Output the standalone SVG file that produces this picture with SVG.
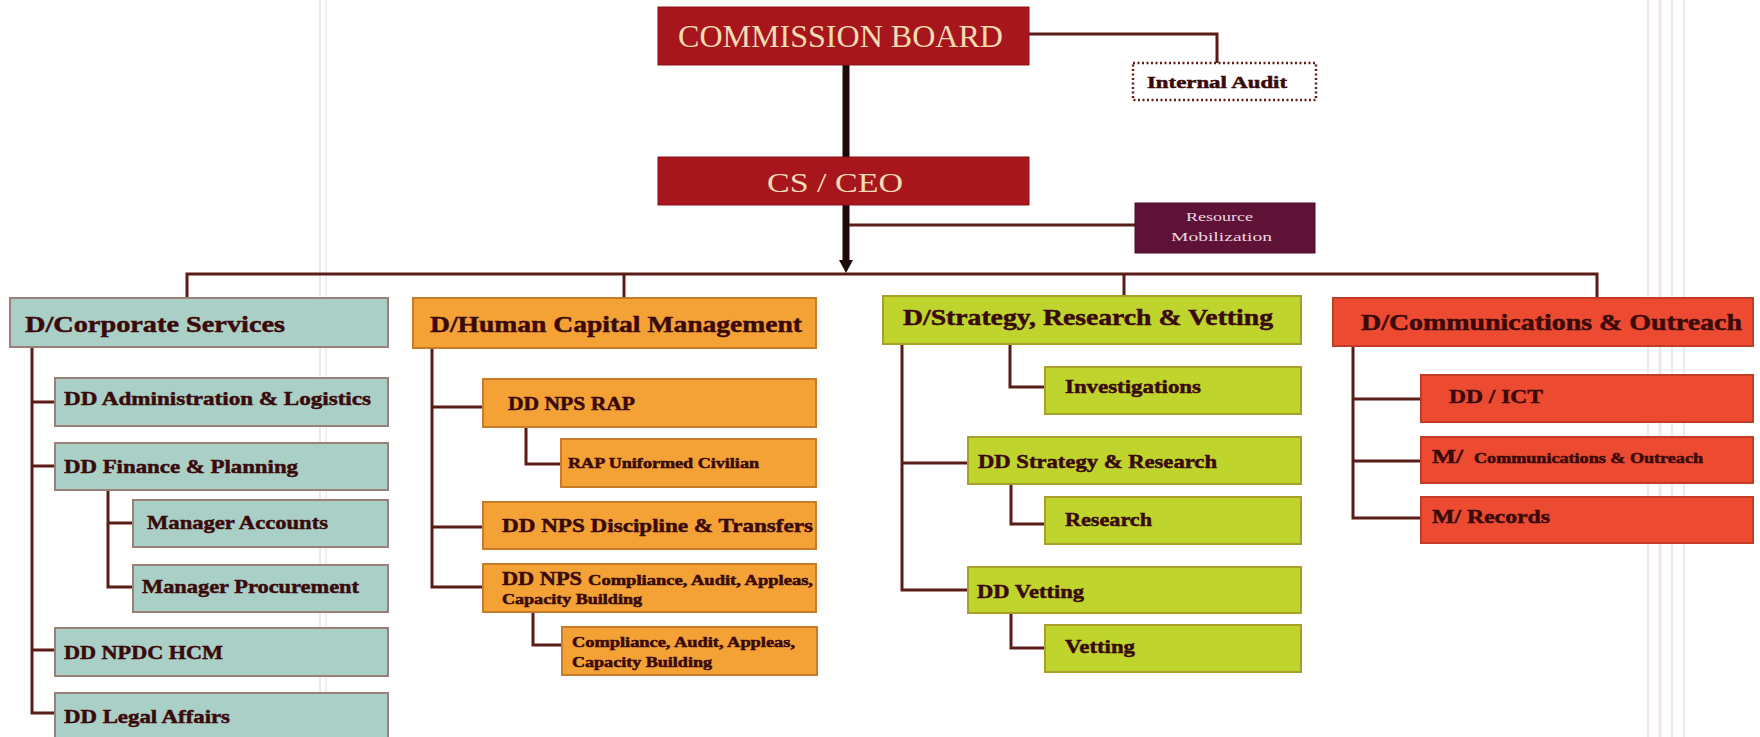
<svg xmlns="http://www.w3.org/2000/svg" width="1760" height="737" viewBox="0 0 1760 737">
  <style>
    .cn { stroke: #5a1c16; stroke-width: 3; fill: none; }
    .trunk { stroke: #1c0a08; stroke-width: 7; fill: none; }
    .box-top { fill: #a8161d; stroke: #8a1016; stroke-width: 1; }
    .box-rm { fill: #5e1236; stroke: #4a0c2a; stroke-width: 1; }
    .box-ia { fill: #ffffff; stroke: #6b1a1a; stroke-width: 2.5; stroke-dasharray: 2 2.5; }
    .teal { fill: #aacfc7; stroke: #9a8078; stroke-width: 2; }
    .orng { fill: #f4a236; stroke: #c87c2a; stroke-width: 2; }
    .lime { fill: #bfd42c; stroke: #a8a02a; stroke-width: 2; }
    .redo { fill: #ec4b32; stroke: #c23a28; stroke-width: 2; }
    .t { font-family: "Liberation Serif", "DejaVu Serif", serif; font-weight: bold; fill: #3a0a0a; stroke: #3a0a0a; stroke-width: 0.5; }
    .h { font-size: 24px; }
    .m { font-size: 19.5px; }
    .s { font-size: 14px; }
    .cap { font-family: "Liberation Serif", "DejaVu Serif", serif; fill: #f2dcb4; }
    .rmt { font-family: "Liberation Serif", "DejaVu Serif", serif; font-size: 13px; fill: #ecd6e4; }
    .streak { stroke: #d9c4cc; fill: none; opacity: 0.4; }
  </style>

  <rect width="1760" height="737" fill="#ffffff"/>

  <!-- faint vertical streaks in the printed sheet -->
  <g id="streaks">
    <line class="streak" x1="320" y1="0" x2="320" y2="737" stroke-width="2"/>
    <line class="streak" x1="326" y1="0" x2="326" y2="737" stroke-width="1.5"/>
    <line class="streak" x1="1648" y1="0" x2="1648" y2="737" stroke-width="2"/>
    <line class="streak" x1="1660" y1="0" x2="1660" y2="737" stroke-width="3"/>
    <line class="streak" x1="1672" y1="0" x2="1672" y2="737" stroke-width="2"/>
    <line class="streak" x1="1684" y1="0" x2="1684" y2="737" stroke-width="2"/>
  </g>

  <!-- connectors -->
  <g id="connectors">
    <!-- top chain -->
    <line class="trunk" x1="846" y1="65" x2="846" y2="157"/>
    <line class="trunk" x1="846" y1="205" x2="846" y2="262"/>
    <polygon points="839,260 853,260 846,273" fill="#1c0a08"/>
    <polyline class="cn" points="1029,34 1217,34 1217,63"/>
    <line class="cn" x1="849" y1="225" x2="1135" y2="225"/>
    <!-- directorate bus -->
    <polyline class="cn" points="187,298 187,274 1597,274 1597,298"/>
    <line class="cn" x1="624" y1="274" x2="624" y2="298"/>
    <line class="cn" x1="1124" y1="274" x2="1124" y2="296"/>

    <!-- corporate services -->
    <polyline class="cn" points="32,347 32,713 55,713"/>
    <line class="cn" x1="32" y1="402" x2="55" y2="402"/>
    <line class="cn" x1="32" y1="466" x2="55" y2="466"/>
    <line class="cn" x1="32" y1="650" x2="55" y2="650"/>
    <polyline class="cn" points="108,490 108,587 133,587"/>
    <line class="cn" x1="108" y1="523" x2="133" y2="523"/>

    <!-- human capital -->
    <polyline class="cn" points="432,348 432,587 483,587"/>
    <line class="cn" x1="432" y1="407" x2="483" y2="407"/>
    <line class="cn" x1="432" y1="527" x2="483" y2="527"/>
    <polyline class="cn" points="526,427 526,464 561,464"/>
    <polyline class="cn" points="533,612 533,645 562,645"/>

    <!-- strategy -->
    <polyline class="cn" points="902,344 902,590 968,590"/>
    <line class="cn" x1="902" y1="463" x2="968" y2="463"/>
    <polyline class="cn" points="1010,344 1010,387 1045,387"/>
    <polyline class="cn" points="1011,484 1011,524 1045,524"/>
    <polyline class="cn" points="1011,613 1011,648 1045,648"/>

    <!-- communications -->
    <polyline class="cn" points="1353,346 1353,518 1421,518"/>
    <line class="cn" x1="1353" y1="399" x2="1421" y2="399"/>
    <line class="cn" x1="1353" y1="461" x2="1421" y2="461"/>
  </g>

  <!-- top level -->
  <g id="commission-board">
    <rect class="box-top" x="658" y="7" width="371" height="58"/>
    <text class="cap" x="678" y="47" font-size="31" textLength="325" lengthAdjust="spacingAndGlyphs">COMMISSION BOARD</text>
  </g>
  <g id="cs-ceo">
    <rect class="box-top" x="658" y="157" width="371" height="48"/>
    <text class="cap" x="767" y="192" font-size="27" textLength="136" lengthAdjust="spacingAndGlyphs">CS / CEO</text>
  </g>
  <g id="internal-audit">
    <rect class="box-ia" x="1133" y="63" width="183" height="37"/>
    <text class="t" x="1147" y="88" font-size="17" textLength="140" lengthAdjust="spacingAndGlyphs">Internal Audit</text>
  </g>
  <g id="resource-mobilization">
    <rect class="box-rm" x="1135" y="203" width="180" height="50"/>
    <text class="rmt" x="1186" y="221" textLength="67" lengthAdjust="spacingAndGlyphs">Resource</text>
    <text class="rmt" x="1171" y="241" textLength="101" lengthAdjust="spacingAndGlyphs">Mobilization</text>
  </g>

  <!-- corporate services -->
  <g id="d-corporate">
    <rect class="teal" x="10" y="298" width="378" height="49"/>
    <text class="t h" x="25" y="332" textLength="260" lengthAdjust="spacingAndGlyphs">D/Corporate Services</text>
  </g>
  <g id="dd-admin">
    <rect class="teal" x="55" y="378" width="333" height="48"/>
    <text class="t m" x="64" y="405" textLength="307" lengthAdjust="spacingAndGlyphs">DD Administration &amp; Logistics</text>
  </g>
  <g id="dd-finance">
    <rect class="teal" x="55" y="443" width="333" height="47"/>
    <text class="t m" x="64" y="473" textLength="234" lengthAdjust="spacingAndGlyphs">DD Finance &amp; Planning</text>
  </g>
  <g id="mgr-accounts">
    <rect class="teal" x="133" y="500" width="255" height="47"/>
    <text class="t m" x="147" y="529" textLength="181" lengthAdjust="spacingAndGlyphs">Manager Accounts</text>
  </g>
  <g id="mgr-procurement">
    <rect class="teal" x="133" y="565" width="255" height="47"/>
    <text class="t m" x="142" y="593" textLength="217" lengthAdjust="spacingAndGlyphs">Manager Procurement</text>
  </g>
  <g id="dd-npdc">
    <rect class="teal" x="55" y="628" width="333" height="48"/>
    <text class="t m" x="64" y="659" textLength="159" lengthAdjust="spacingAndGlyphs">DD NPDC HCM</text>
  </g>
  <g id="dd-legal">
    <rect class="teal" x="55" y="693" width="333" height="50"/>
    <text class="t m" x="64" y="723" textLength="166" lengthAdjust="spacingAndGlyphs">DD Legal Affairs</text>
  </g>

  <!-- human capital management -->
  <g id="d-hcm">
    <rect class="orng" x="413" y="298" width="403" height="50"/>
    <text class="t h" x="430" y="332" textLength="372" lengthAdjust="spacingAndGlyphs">D/Human Capital Management</text>
  </g>
  <g id="dd-nps-rap">
    <rect class="orng" x="483" y="379" width="333" height="48"/>
    <text class="t m" x="508" y="410" textLength="127" lengthAdjust="spacingAndGlyphs">DD NPS RAP</text>
  </g>
  <g id="rap-uniformed">
    <rect class="orng" x="561" y="439" width="255" height="48"/>
    <text class="t s" x="568" y="468" textLength="191" lengthAdjust="spacingAndGlyphs">RAP Uniformed Civilian</text>
  </g>
  <g id="dd-nps-discipline">
    <rect class="orng" x="483" y="502" width="333" height="47"/>
    <text class="t m" x="502" y="532" textLength="311" lengthAdjust="spacingAndGlyphs">DD NPS Discipline &amp; Transfers</text>
  </g>
  <g id="dd-nps-compliance">
    <rect class="orng" x="483" y="564" width="333" height="48"/>
    <text class="t m" x="502" y="585" textLength="80" lengthAdjust="spacingAndGlyphs">DD NPS</text>
    <text class="t s" x="588" y="585" textLength="225" lengthAdjust="spacingAndGlyphs">Compliance, Audit, Appleas,</text>
    <text class="t s" x="502" y="604" textLength="140" lengthAdjust="spacingAndGlyphs">Capacity Building</text>
  </g>
  <g id="compliance">
    <rect class="orng" x="562" y="627" width="255" height="48"/>
    <text class="t s" x="572" y="647" textLength="223" lengthAdjust="spacingAndGlyphs">Compliance, Audit, Appleas,</text>
    <text class="t s" x="572" y="667" textLength="140" lengthAdjust="spacingAndGlyphs">Capacity Building</text>
  </g>

  <!-- strategy, research & vetting -->
  <g id="d-strategy">
    <rect class="lime" x="883" y="296" width="418" height="48"/>
    <text class="t h" x="903" y="325" textLength="370" lengthAdjust="spacingAndGlyphs">D/Strategy, Research &amp; Vetting</text>
  </g>
  <g id="investigations">
    <rect class="lime" x="1045" y="367" width="256" height="47"/>
    <text class="t m" x="1065" y="393" textLength="136" lengthAdjust="spacingAndGlyphs">Investigations</text>
  </g>
  <g id="dd-strategy-research">
    <rect class="lime" x="968" y="437" width="333" height="47"/>
    <text class="t m" x="978" y="468" textLength="239" lengthAdjust="spacingAndGlyphs">DD Strategy &amp; Research</text>
  </g>
  <g id="research">
    <rect class="lime" x="1045" y="497" width="256" height="47"/>
    <text class="t m" x="1065" y="526" textLength="87" lengthAdjust="spacingAndGlyphs">Research</text>
  </g>
  <g id="dd-vetting">
    <rect class="lime" x="968" y="567" width="333" height="46"/>
    <text class="t m" x="977" y="598" textLength="107" lengthAdjust="spacingAndGlyphs">DD Vetting</text>
  </g>
  <g id="vetting">
    <rect class="lime" x="1045" y="625" width="256" height="47"/>
    <text class="t m" x="1065" y="653" textLength="70" lengthAdjust="spacingAndGlyphs">Vetting</text>
  </g>

  <!-- communications & outreach -->
  <g id="d-communications">
    <rect class="redo" x="1333" y="298" width="420" height="48"/>
    <text class="t h" x="1361" y="330" textLength="381" lengthAdjust="spacingAndGlyphs">D/Communications &amp; Outreach</text>
  </g>
  <g id="dd-ict">
    <rect class="redo" x="1421" y="375" width="332" height="47"/>
    <text class="t m" x="1449" y="403" textLength="94" lengthAdjust="spacingAndGlyphs">DD / ICT</text>
  </g>
  <g id="m-communications">
    <rect class="redo" x="1421" y="437" width="332" height="46"/>
    <text class="t m" x="1432" y="463" textLength="31" lengthAdjust="spacingAndGlyphs">M/</text>
    <text class="t s" x="1474" y="463" textLength="229" lengthAdjust="spacingAndGlyphs">Communications &amp; Outreach</text>
  </g>
  <g id="m-records">
    <rect class="redo" x="1421" y="497" width="332" height="46"/>
    <text class="t m" x="1432" y="523" textLength="118" lengthAdjust="spacingAndGlyphs">M/ Records</text>
  </g>
</svg>
